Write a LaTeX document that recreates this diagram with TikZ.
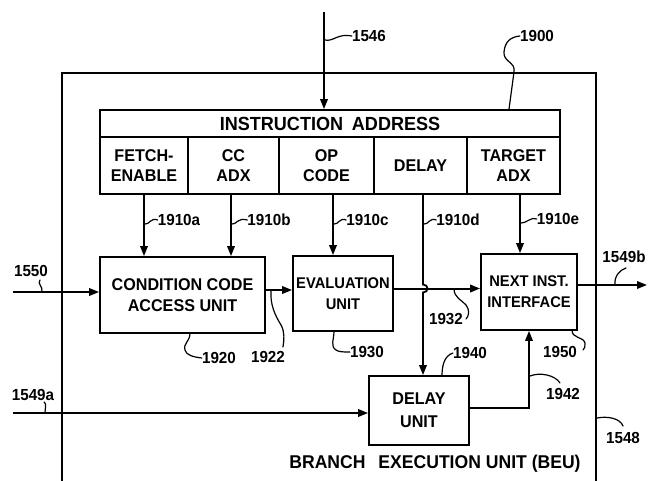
\documentclass[tikz,border=0pt]{standalone}
\usepackage{fontspec}
\newfontfamily\lbl{Liberation Sans}[FakeStretch=0.95]
\usetikzlibrary{arrows.meta}
\begin{document}
\begin{tikzpicture}[x=1pt,y=-1pt,
  box/.style={draw,line width=1.8pt,inner sep=0pt,align=center,font=\lbl\bfseries\fontsize{17}{20}\selectfont},
  wire/.style={line width=1.8pt},
  arr/.style={wire,-{Triangle[length=10pt,width=7.5pt]}},
  lead/.style={line width=1.2pt,line cap=round},
  num/.style={inner sep=0pt,font=\lbl\bfseries\fontsize{16}{18}\selectfont}]
\path[use as bounding box,fill=white] (0,0) rectangle (648,480);
\clip (0,0) rectangle (648,480);

% outer unit
\node[box,minimum width=534pt,minimum height=420pt] (beu) at (329,283) {};

% instruction register
\node[box,minimum width=460pt,minimum height=27pt,font=\lbl\bfseries\fontsize{19}{21}\selectfont] (ia) at (330,123.5) {INSTRUCTION\hspace{0.2em} ADDRESS};
\node[box,minimum width=88pt,minimum height=57pt] (fe) at (144,165.5) {FETCH-\\ENABLE};
\node[box,minimum width=91pt,minimum height=57pt] (cc) at (233.5,165.5) {CC\\ADX};
\node[box,minimum width=95pt,minimum height=57pt] (op) at (326.5,165.5) {OP\\CODE};
\node[box,minimum width=93pt,minimum height=57pt] (dl) at (420.5,165.5) {DELAY};
\node[box,minimum width=93pt,minimum height=57pt] (ta) at (513.5,165.5) {TARGET\\ADX};

% functional blocks
\node[box,minimum width=165pt,minimum height=76pt,font=\lbl\bfseries\fontsize{17}{21}\selectfont] (ccu) at (182.5,295) {CONDITION CODE\\ACCESS UNIT};
\node[box,minimum width=100pt,minimum height=75pt,font=\lbl\bfseries\fontsize{15.5}{21}\selectfont] (eval) at (343,293.5) {EVALUATION\\UNIT};
\node[box,minimum width=96pt,minimum height=76pt,font=\lbl\bfseries\fontsize{15.5}{21}\selectfont] (nxt) at (529,292) {NEXT INST.\\INTERFACE};
\node[box,minimum width=100pt,minimum height=69pt,font=\lbl\bfseries\fontsize{17}{23}\selectfont] (dly) at (419,410.5) {DELAY\\UNIT};

\node[inner sep=0pt,font=\lbl\bfseries\fontsize{18.5}{20}\selectfont] (beulbl) at (435,464) {BRANCH\hspace{0.7em}EXECUTION\ UNIT\ (BEU)};

% connectors
\coordinate (s1546) at (324,12);
\draw[arr] (s1546) -- (s1546 |- ia.north);
\draw[arr] (fe.south) -- (fe.south |- ccu.north);
\draw[arr] ([xshift=-2.5pt]cc.south) -- ([xshift=-2.5pt]cc.south |- ccu.north);
\draw[arr] ([xshift=6.5pt]op.south) -- ([xshift=6.5pt]op.south |- eval.north);
\draw[arr] ([xshift=2.5pt]dl.south) -- (423,284.5) .. controls (429,284.5) and (429,292.5) .. (423,292.5) -- ([xshift=4pt]dly.north);
\draw[arr] ([xshift=6.5pt]ta.south) -- ([xshift=6.5pt]ta.south |- nxt.north);

\coordinate (i1550) at (13,292);
\draw[arr] (i1550) -- (i1550 -| ccu.west);
\draw[arr] ([yshift=5pt]ccu.east) -- ([yshift=5pt]ccu.east -| eval.west);
\draw[arr,line width=2pt] ([yshift=5pt]eval.east) -- ([yshift=5pt]eval.east -| nxt.west);
\coordinate (o1549b) at (647,285);
\draw[arr] (o1549b -| nxt.east) -- (o1549b);
\coordinate (i1549a) at (13,413);
\draw[arr] (i1549a) -- (i1549a -| dly.west);
\draw[arr] ([yshift=2.5pt]dly.east) -| (nxt.south);

% reference numerals
\node[num] (n1546) at (369,36) {1546};
\node[num] (n1900) at (537,36) {1900};
\node[num] (n1910a) at (179,220) {1910a};
\node[num] (n1910b) at (269,220) {1910b};
\node[num] (n1910c) at (367.5,220) {1910c};
\node[num] (n1910d) at (458,220) {1910d};
\node[num] (n1910e) at (558,219) {1910e};
\node[num] (n1550) at (31,271) {1550};
\node[num] (n1549a) at (33,395) {1549a};
\node[num] (n1920) at (219,358) {1920};
\node[num] (n1922) at (268,357) {1922};
\node[num] (n1930) at (367,352) {1930};
\node[num] (n1932) at (446,319) {1932};
\node[num] (n1940) at (470,353) {1940};
\node[num] (n1942) at (563,394) {1942};
\node[num] (n1950) at (560,352) {1950};
\node[num] (n1549b) at (624,257) {1549b};
\node[num] (n1548) at (623,438) {1548};

% leaders
\draw[lead] (325,40) .. controls (333,42) and (338,33) .. (n1546.west);
\draw[lead] ([xshift=179pt]ia.north) -- (514,72) .. controls (516,62) and (503,62) .. (504,52) .. controls (505,42) and (510,37) .. (n1900.west);
\draw[lead] (145,224) .. controls (149,225) and (151,217) .. (n1910a.west);
\draw[lead] (232,224) .. controls (236,225) and (238,217) .. (n1910b.west);
\draw[lead] (334,224) .. controls (338,225) and (340,217) .. (n1910c.west);
\draw[lead] (424,224) .. controls (428,225) and (430,217) .. (n1910d.west);
\draw[lead] (521,223) .. controls (525,224) and (532,216) .. (n1910e.west);
\draw[lead] (40,280) .. controls (37,284) and (43,286) .. (42,292);
\draw[lead] (44,402) .. controls (47,404) and (45,408) .. (45,413);
\draw[lead] (190,333) .. controls (190,342) and (183,343) .. (185,350) .. controls (186,355) and (193,357) .. (n1920.west);
\draw[lead] (271,290) .. controls (270,305) and (275,315) .. (281,325) .. controls (285,332) and (284,340) .. (283,347);
\draw[lead] (334,331) .. controls (334,340) and (330,346) .. (336,350) .. controls (339,352) and (343,352) .. (n1930.west);
\draw[lead] (454,288.5) .. controls (454,298) and (462,300) .. (466,305) .. controls (470,310) and (469,316) .. (466,319);
\draw[lead] (442,376) .. controls (442,366) and (444,356) .. (n1940.west);
\draw[lead] (530,376) .. controls (540,372) and (555,375) .. (560,383);
\draw[lead] (572,330) .. controls (572,339) and (583,336) .. (585,343) .. controls (586,346) and (584,349) .. (583,350);
\draw[lead] (615,285) .. controls (614,276) and (620,270) .. (626,268);
\draw[lead] (597,418) .. controls (607,416) and (620,418) .. (623,426);
\end{tikzpicture}
\end{document}
